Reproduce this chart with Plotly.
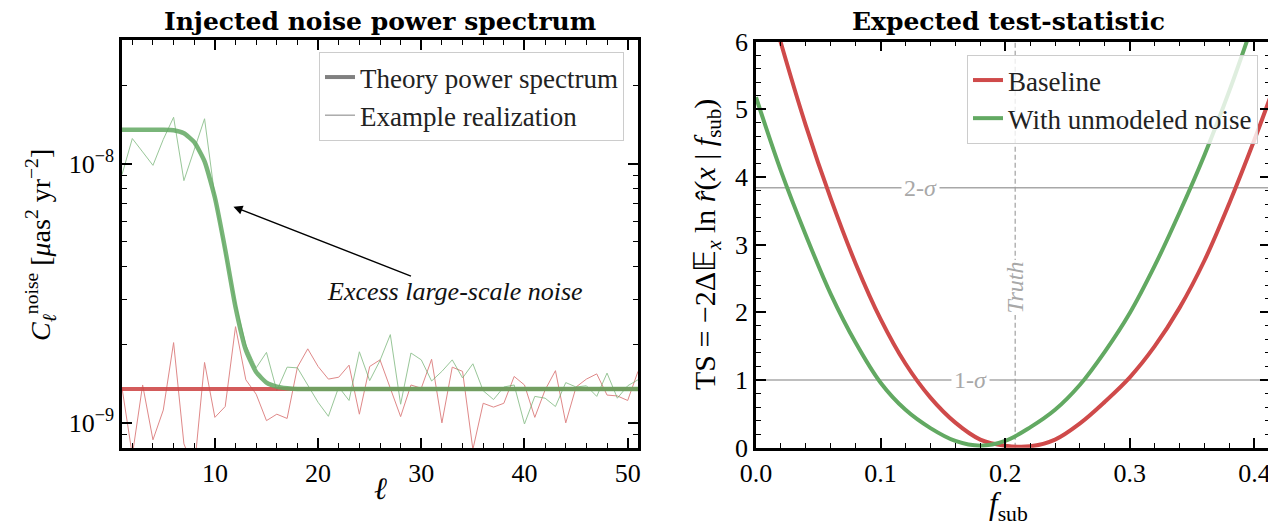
import plotly.graph_objects as go

# ---------------- data ----------------
ell = list(range(1, 52))

theory_noise = [1.35e-8, 1.35e-8, 1.35e-8, 1.35e-8, 1.35e-8, 1.345e-8, 1.31e-8, 1.21e-8, 1.02e-8, 7.4e-9,
                4.66e-9, 2.8e-9, 1.91e-9, 1.57e-9, 1.43e-9, 1.38e-9, 1.36e-9] + [1.35e-9] * 34
theory_base = [1.35e-9] * 51

real_noise = [9.07e-9, 1.25e-8, 1.11e-8, 9.85e-9, 1.24e-8, 1.51e-8, 8.6e-9, 1.14e-8, 1.49e-8, 7.45e-9,
              4.5e-9, 2.9e-9, 2.0e-9, 1.63e-9, 1.87e-9, 1.33e-9, 1.64e-9, 1.63e-9, 1.39e-9, 1.20e-9,
              1.06e-9, 1.375e-9, 1.22e-9, 1.88e-9, 1.455e-9, 1.74e-9, 2.19e-9, 1.18e-9, 1.86e-9, 1.75e-9,
              1.45e-9, 1.58e-9, 1.75e-9, 1.49e-9, 1.69e-9, 1.33e-9, 1.23e-9, 1.375e-9, 1.40e-9, 9.9e-10,
              1.265e-9, 1.245e-9, 1.156e-9, 1.43e-9, 1.375e-9, 1.39e-9, 1.265e-9, 1.556e-9, 1.245e-9, 1.39e-9,
              1.466e-9]
real_base = [1.365e-9, 7.5e-10, 1.40e-9, 8.6e-10, 1.12e-9, 2.04e-9, 8.3e-10, 6.6e-10, 1.71e-9, 1.05e-9,
             1.156e-9, 2.35e-9, 1.466e-9, 1.29e-9, 1.02e-9, 1.08e-9, 1.04e-9, 1.64e-9, 1.93e-9, 1.65e-9,
             1.475e-9, 1.50e-9, 1.67e-9, 1.08e-9, 1.65e-9, 1.75e-9, 1.36e-9, 1.057e-9, 1.40e-9, 1.36e-9,
             1.76e-9, 1.00e-9, 1.64e-9, 1.58e-9, 7.9e-10, 1.19e-9, 1.15e-9, 1.19e-9, 1.51e-9, 1.40e-9,
             1.05e-9, 1.34e-9, 1.59e-9, 1.00e-9, 1.375e-9, 1.475e-9, 1.545e-9, 1.28e-9, 1.27e-9, 1.22e-9,
             1.58e-9]

f_sub = [0.00, 0.02, 0.04, 0.06, 0.08, 0.10, 0.12, 0.14, 0.16, 0.18, 0.20,
         0.22, 0.24, 0.26, 0.28, 0.30, 0.32, 0.34, 0.36, 0.38, 0.40, 0.42]
ts_baseline = [7.3, 5.98, 4.76, 3.68, 2.72, 1.90, 1.24, 0.74, 0.37, 0.12, 0.03,
               0.02, 0.12, 0.36, 0.68, 1.04, 1.50, 2.07, 2.77, 3.62, 4.55, 5.55]
ts_noise = [5.18, 4.09, 3.14, 2.27, 1.55, 0.96, 0.56, 0.29, 0.10, 0.03, 0.10,
            0.30, 0.56, 0.93, 1.42, 1.99, 2.69, 3.48, 4.33, 5.28, 6.33, 7.4]

sigma_levels = [1.0, 3.84]
sigma_labels = ["1-<i>σ</i>", "2-<i>σ</i>"]
sigma_label_x = [0.172, 0.132]
f_truth = 0.208

# ---------------- style ----------------
RED = "#cf4a4a"
GREEN = "#62a962"
GREY = "#a8a8a8"
FONT = "Liberation Serif"
OFF = 8                      # default page margin around the plot div
W, H = 1276 - OFF, 526 - OFF

def px(x):
    return (x - OFF) / W

def py(y):
    return 1 - (y - OFF) / H

fig = go.Figure()

# left panel
fig.add_trace(go.Scatter(x=ell, y=real_base, mode="lines", line=dict(color=RED, width=1),
                         opacity=0.65, showlegend=False, xaxis="x", yaxis="y"))
fig.add_trace(go.Scatter(x=ell, y=real_noise, mode="lines", line=dict(color=GREEN, width=1),
                         opacity=0.65, showlegend=False, xaxis="x", yaxis="y"))
fig.add_trace(go.Scatter(x=ell, y=theory_base, mode="lines", line=dict(color=RED, width=4),
                         opacity=0.9, showlegend=False, xaxis="x", yaxis="y"))
fig.add_trace(go.Scatter(x=ell, y=theory_noise, mode="lines",
                         line=dict(color=GREEN, width=4.5, shape="spline", smoothing=0.5),
                         opacity=0.85, showlegend=False, xaxis="x", yaxis="y"))
# legend dummies (left)
fig.add_trace(go.Scatter(x=[None], y=[None], mode="lines", line=dict(color="#808080", width=4),
                         name="Theory power spectrum", legend="legend", xaxis="x", yaxis="y"))
fig.add_trace(go.Scatter(x=[None], y=[None], mode="lines", line=dict(color="#808080", width=1),
                         name="Example realization", legend="legend", xaxis="x", yaxis="y"))

# right panel reference lines
for lev in sigma_levels:
    fig.add_trace(go.Scatter(x=[0, 0.4125], y=[lev, lev], mode="lines",
                             line=dict(color=GREY, width=1.5), showlegend=False,
                             xaxis="x2", yaxis="y2"))
fig.add_trace(go.Scatter(x=[f_truth, f_truth], y=[0, 6], mode="lines",
                         line=dict(color="#a0a0a0", width=1.2, dash="5px,3px"), showlegend=False,
                         xaxis="x2", yaxis="y2"))
fig.add_trace(go.Scatter(x=f_sub, y=ts_baseline, mode="lines", line=dict(color=RED, width=4, shape="spline"),
                         name="Baseline", legend="legend2", xaxis="x2", yaxis="y2"))
fig.add_trace(go.Scatter(x=f_sub, y=ts_noise, mode="lines", line=dict(color=GREEN, width=4, shape="spline"),
                         name="With unmodeled noise", legend="legend2", xaxis="x2", yaxis="y2"))

axis_common = dict(showline=True, linewidth=2.5, linecolor="black", mirror="allticks",
                   ticks="inside", ticklen=10, tickwidth=1.5, tickcolor="black",
                   showgrid=False, zeroline=False, automargin=False,
                   tickfont=dict(family=FONT, size=26, color="black"))

minor_common = dict(ticks="inside", ticklen=5, tickwidth=1.2, tickcolor="black", showgrid=False)

fig.update_layout(
    template="none",
    width=W, height=H,
    margin=dict(l=0, r=0, t=0, b=0, pad=0),
    paper_bgcolor="white", plot_bgcolor="white",
    font=dict(family=FONT, size=26, color="black"),
    xaxis=dict(domain=[px(122), px(638)], range=[1, 51], tickvals=[10, 20, 30, 40, 50],
               minor=dict(dtick=2, tick0=0, **minor_common), anchor="y", **axis_common),
    yaxis=dict(domain=[py(448), py(40)], type="log", range=[-9.097, -7.523],
               tickvals=[1e-9, 1e-8], ticktext=["10<sup>−9</sup>", "10<sup>−8</sup>"],
               minor=dict(tickvals=[8e-10, 9e-10] + [k * 1e-9 for k in range(2, 10)] + [2e-8, 3e-8],
                          **minor_common),
               anchor="x", **axis_common),
    xaxis2=dict(domain=[px(756), px(1270)], range=[0, 0.4125], dtick=0.1, tick0=0, tickformat=".1f",
                minor=dict(dtick=0.02, tick0=0, **minor_common), anchor="y2", **axis_common),
    yaxis2=dict(domain=[py(447.7), py(41.7)], range=[0, 6], dtick=1, tick0=0,
                minor=dict(dtick=0.2, tick0=0, **minor_common), anchor="x2", **axis_common),
    legend=dict(x=px(624), xanchor="right", y=py(52), yanchor="top",
                bgcolor="rgba(255,255,255,0.8)", bordercolor="#cccccc", borderwidth=1,
                font=dict(family=FONT, size=27, color="#222")),
    legend2=dict(x=px(1258), xanchor="right", y=py(55), yanchor="top",
                 bgcolor="rgba(255,255,255,0.8)", bordercolor="#cccccc", borderwidth=1,
                 font=dict(family=FONT, size=27, color="#222")),
)

ann = []

def paper_text(text, x, y, size, family=FONT, angle=0, color="black"):
    ann.append(dict(text=text, x=px(x), y=py(y), xref="paper", yref="paper",
                    xanchor="center", yanchor="middle", showarrow=False, textangle=angle,
                    font=dict(family=family, size=size, color=color)))

# titles
paper_text("<b>Injected noise power spectrum</b>", 380, 22, 25, family="DejaVu Serif")
paper_text("<b>Expected test-statistic</b>", 1008, 22, 25, family="DejaVu Serif")
# axis labels
paper_text("<i>ℓ</i>", 380, 488, 31)
paper_text("<i>f</i><sub>sub</sub>", 1008, 506, 31)
paper_text("<i>C</i><sub><i>ℓ</i></sub><sup>noise</sup> [<i>μ</i>as<sup>2</sup> yr<sup>−2</sup>]",
           40, 245, 28, angle=-90)
paper_text("TS = −2Δ𝔼<sub><i>x</i></sub> ln <i>r̂</i>(<i>x</i> | <i>f</i><sub>sub</sub>)",
           707, 245, 30, angle=-90)

# arrow + text on left panel
ann.append(dict(text="", x=11.8, y=-8.166, xref="x", yref="y", ax=179, ay=70, axref="pixel", ayref="pixel",
                showarrow=True, arrowhead=2, arrowsize=1.3, arrowwidth=1.4, arrowcolor="black"))
ann.append(dict(text="<i>Excess large-scale noise</i>", x=33.3, y=-8.494, xref="x", yref="y",
                xanchor="center", yanchor="middle",
                showarrow=False, font=dict(family=FONT, size=26, color="#111")))
# sigma labels
for lev, lab, lx in zip(sigma_levels, sigma_labels, sigma_label_x):
    ann.append(dict(text=lab, x=lx, y=lev, xref="x2", yref="y2", showarrow=False, bgcolor="white",
                    xanchor="center", yanchor="middle",
                    font=dict(family=FONT, size=24, color=GREY), borderpad=2))
ann.append(dict(text="<i>Truth</i>", x=f_truth, y=2.37, xref="x2", yref="y2", showarrow=False,
                xanchor="center", yanchor="middle",
                bgcolor="white", textangle=-90, font=dict(family=FONT, size=24, color=GREY), borderpad=1))
fig.update_layout(annotations=ann)

fig.write_html("out.html")
